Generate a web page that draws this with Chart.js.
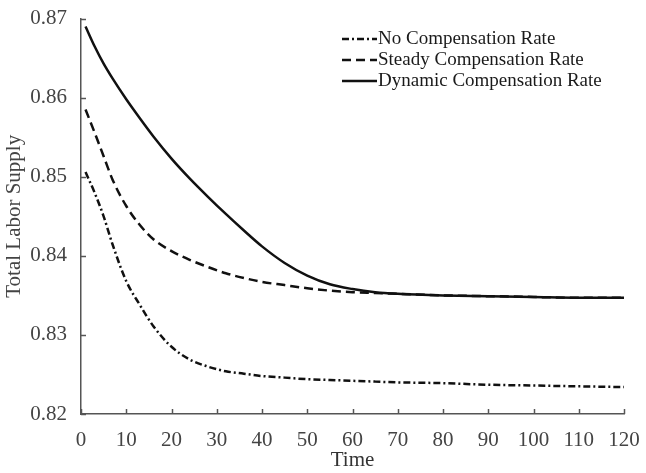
<!DOCTYPE html>
<html><head><meta charset="utf-8">
<script src="https://cdn.jsdelivr.net/npm/chart.js@4/dist/chart.umd.min.js"></script>
<style>html,body{margin:0;padding:0;background:#fff}#wrap{width:646px;height:473px}</style>
</head><body><div id="wrap"><canvas id="c" width="646" height="473"></canvas></div>
<script>
const timePoints = [1,3,5,7,10,13,16,20,24,28,32,36,40,45,50,55,60,65,70,80,90,100,110,120];
const noCompensation = [0.8506,0.8480,0.8450,0.8414,0.8368,0.8338,0.8311,0.8285,0.8269,0.8260,0.8254,0.8251,0.8248,0.8246,0.8244,0.8243,0.8242,0.8241,0.8240,0.8239,0.8237,0.8236,0.8235,0.8234];
const steadyCompensation = [0.8585,0.8556,0.8526,0.8496,0.8463,0.8439,0.8421,0.8406,0.8395,0.8386,0.8378,0.8372,0.8367,0.8363,0.8359,0.8356,0.8354,0.8353,0.8352,0.8350,0.8349,0.8348,0.8347,0.8347];
const dynamicCompensation = [0.8690,0.8665,0.8643,0.8624,0.8598,0.8574,0.8551,0.8523,0.8498,0.8475,0.8453,0.8432,0.8412,0.8391,0.8375,0.8364,0.8358,0.8354,0.8352,0.8350,0.8349,0.8348,0.8347,0.8347];
const seriesLabels = ['No Compensation Rate','Steady Compensation Rate','Dynamic Compensation Rate'];
const xTicks = [0,10,20,30,40,50,60,70,80,90,100,110,120];
const yTicks = [0.82,0.83,0.84,0.85,0.86,0.87];

const toPts = arr => timePoints.map((t,i)=>({x:t,y:arr[i]}));
const FONT = 'Liberation Serif, Times New Roman, serif';
const lineColor = '#111';

const inwardTicks = {
  id:'inwardTicks',
  afterDatasetsDraw(chart){
    const ctx = chart.ctx, xs = chart.scales.x, ys = chart.scales.y, ca = chart.chartArea;
    ctx.save();
    ctx.strokeStyle = '#555'; ctx.lineWidth = 1.5; ctx.setLineDash([]);
    xs.ticks.forEach(t=>{const px = Math.round(xs.getPixelForValue(t.value))+0.5;
      ctx.beginPath(); ctx.moveTo(px, ca.bottom); ctx.lineTo(px, ca.bottom-5); ctx.stroke();});
    ys.ticks.forEach(t=>{const py = Math.round(ys.getPixelForValue(t.value))+0.5;
      ctx.beginPath(); ctx.moveTo(ca.left, py); ctx.lineTo(ca.left+5, py); ctx.stroke();});
    ctx.restore();
  }
};

const customLegend = {
  id:'customLegend',
  afterDraw(chart){
    const ctx = chart.ctx;
    ctx.save();
    ctx.font = '19px ' + FONT;
    ctx.textBaseline = 'middle';
    ctx.textAlign = 'left';
    chart.data.datasets.forEach((ds,i)=>{
      const y = 39 + i*21;
      ctx.strokeStyle = ds.borderColor; ctx.lineWidth = ds.borderWidth;
      ctx.setLineDash(ds.borderDash || []);
      ctx.beginPath(); ctx.moveTo(342, y); ctx.lineTo(377, y); ctx.stroke();
      ctx.fillStyle = '#1a1a1a';
      ctx.fillText(ds.label, 378, y);
    });
    ctx.restore();
  }
};

new Chart(document.getElementById('c'), {
  type:'line',
  data:{datasets:[
    {label:seriesLabels[0], data:toPts(noCompensation), borderColor:lineColor, borderWidth:2.5, borderDash:[7,3,2,3], pointRadius:0, cubicInterpolationMode:'monotone', fill:false},
    {label:seriesLabels[1], data:toPts(steadyCompensation), borderColor:lineColor, borderWidth:2.5, borderDash:[9,5], pointRadius:0, cubicInterpolationMode:'monotone', fill:false},
    {label:seriesLabels[2], data:toPts(dynamicCompensation), borderColor:lineColor, borderWidth:2.5, pointRadius:0, cubicInterpolationMode:'monotone', fill:false}
  ]},
  options:{
    responsive:false, devicePixelRatio:1, animation:false,
    layout:{padding:{left:0,top:15,right:22,bottom:0}},
    plugins:{legend:{display:false}, tooltip:{enabled:false}},
    scales:{
      x:{type:'linear', min:0, max:120,
        afterBuildTicks:s=>{s.ticks = xTicks.map(v=>({value:v}));},
        afterFit:s=>{s.height = 59;},
        ticks:{font:{family:FONT,size:21}, color:'#444', padding:6, maxRotation:0, autoSkip:false},
        grid:{display:false},
        border:{display:true, color:'#555', width:1.5},
        title:{display:true, text:'Time', font:{family:FONT,size:21}, color:'#333', padding:{top:0,bottom:0}}
      },
      y:{type:'linear', min:0.82, max:0.87,
        afterBuildTicks:s=>{s.ticks = yTicks.map(v=>({value:v}));},
        afterFit:s=>{s.width = 81;},
        ticks:{font:{family:FONT,size:21}, color:'#444', padding:6, callback:v=>Number(v).toFixed(2)},
        grid:{display:false},
        border:{display:true, color:'#555', width:1.5},
        title:{display:true, text:'Total Labor Supply', font:{family:FONT,size:21}, color:'#444', padding:{top:2,bottom:0}}
      }
    }
  },
  plugins:[inwardTicks, customLegend]
});
</script></body></html>
